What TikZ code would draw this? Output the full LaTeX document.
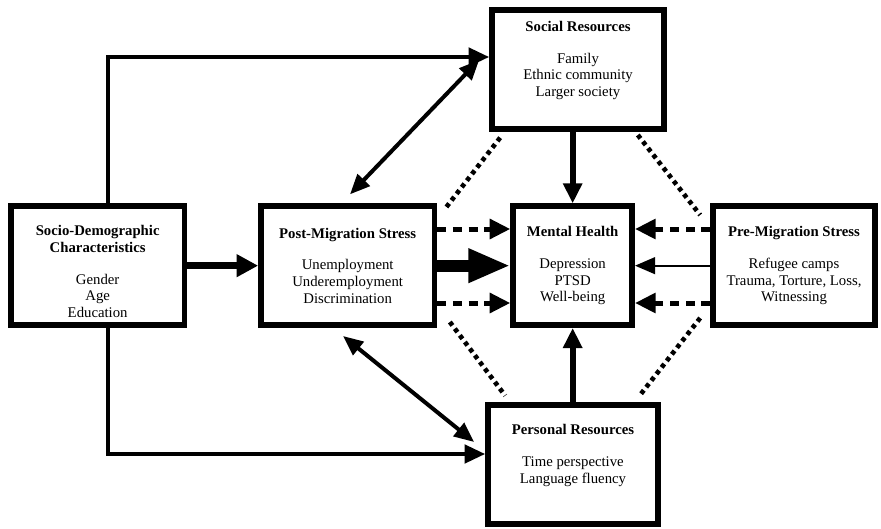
\documentclass[tikz,border=0pt]{standalone}
\usepackage{fontspec}
\setmainfont{Liberation Serif}
\usetikzlibrary{arrows.meta}

\begin{document}
\begin{tikzpicture}[
	box/.style={draw,line width=0.17cm,align=center,inner sep=2pt,minimum height=3.57cm,font=\fontsize{12.6}{14.3}\selectfont},
	elbow/.style={-{Triangle[length=0.62cm,width=0.55cm]},line width=0.12cm},
	both/.style={{Triangle[length=0.6cm,width=0.5cm]}-{Triangle[length=0.6cm,width=0.5cm]},line width=0.12cm},
	thick arrow/.style={-{Triangle[length=0.65cm,width=0.65cm]},line width=0.22cm},
	big arrow/.style={-{Triangle[length=1.26cm,width=0.95cm]},line width=0.36cm},
	vert arrow/.style={-{Triangle[length=0.6cm,width=0.55cm]},line width=0.17cm},
	dash arrow/.style={-{Triangle[length=0.62cm,width=0.58cm]},line width=0.15cm,dash pattern=on 0.27cm off 0.2cm},
	thin arrow/.style={-{Triangle[length=0.6cm,width=0.5cm]},line width=0.06cm},
	dots/.style={line width=0.14cm,dash pattern=on 0.13cm off 0.12cm}
]
\useasboundingbox (0,0) rectangle (26.43,-15.87);

\node[box,minimum width=5.2cm] (socio) at (2.93,-7.97) {\strut\\[-0.2cm]\textbf{Socio-Demographic}\\\textbf{Characteristics}\\[0.45cm]Gender\\Age\\Education};
\node[box,minimum width=5.2cm] (post) at (10.43,-7.97) {\textbf{Post-Migration Stress}\\[0.45cm]Unemployment\\Underemployment\\Discrimination};
\node[box,minimum width=3.57cm] (mental) at (17.18,-7.97) {\textbf{Mental Health}\\[0.45cm]Depression\\PTSD\\Well-being};
\node[box,minimum width=4.86cm] (pre) at (23.82,-7.97) {\textbf{Pre-Migration Stress}\\[0.45cm]Refugee camps\\Trauma, Torture, Loss,\\Witnessing};
\node[box,minimum width=5.16cm] (social) at (17.34,-2.09) {\textbf{Social Resources}\\[0.45cm]Family\\Ethnic community\\Larger society\\ \strut};
\node[box,minimum width=5.1cm] (personal) at (17.19,-13.94) {\textbf{Personal Resources}\\[0.45cm]Time perspective\\Language fluency\\ \strut};

% socio-demographic paths
\draw[elbow] ([xshift=0.31cm]socio.north) |- ([yshift=0.38cm]social.west);
\draw[elbow] ([xshift=0.31cm]socio.south) |- ([yshift=0.32cm]personal.west);
\draw[thick arrow] (socio) -- (post);

% into mental health
\draw[big arrow] (post) -- (mental);
\draw[dash arrow] ([yshift=1.1cm]post.east) -- ([yshift=1.1cm]mental.west);
\draw[dash arrow] ([yshift=-1.12cm]post.east) -- ([yshift=-1.12cm]mental.west);
\draw[dash arrow] ([yshift=1.1cm]pre.west) -- ([yshift=1.1cm]mental.east);
\draw[dash arrow] ([yshift=-1.12cm]pre.west) -- ([yshift=-1.12cm]mental.east);
\draw[thin arrow] (pre) -- (mental);
\draw[vert arrow] (social.south -| mental.north) -- (mental.north);
\draw[vert arrow] (personal.north -| mental.south) -- (mental.south);

% resources and post-migration stress
\draw[both] ([xshift=0.07cm,yshift=0.27cm]post.north) -- ([xshift=-0.3cm,yshift=0.29cm]social.west);
\draw[both] ([xshift=-0.14cm,yshift=-0.24cm]post.south) -- ([xshift=-0.33cm,yshift=0.68cm]personal.west);

% dotted octagon
\draw[dots] ([xshift=0.33cm,yshift=-0.17cm]social.south west) -- ([xshift=0.23cm,yshift=-0.17cm]post.north east);
\draw[dots] ([xshift=0.38cm,yshift=0.18cm]post.south east) -- ([xshift=0.6cm,yshift=0.2cm]personal.north west);
\draw[dots] ([xshift=-0.87cm,yshift=-0.09cm]social.south east) -- ([xshift=-0.3cm,yshift=-0.35cm]pre.north west);
\draw[dots] ([xshift=-0.3cm,yshift=0.3cm]pre.south west) -- ([xshift=-0.63cm,yshift=0.21cm]personal.north east);
\end{tikzpicture}
\end{document}
